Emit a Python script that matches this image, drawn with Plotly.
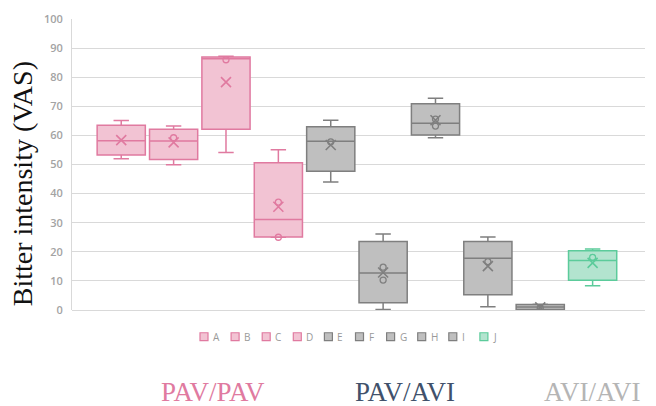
import plotly.graph_objects as go

# ---------------- data ----------------
names = ["A", "B", "C", "D", "E", "F", "G", "H", "I", "J"]
groups = ["PAV/PAV"] * 4 + ["PAV/AVI"] * 5 + ["AVI/AVI"]
lower = [52.0, 49.9, 54.1, 25.0, 44.0, 0.2, 59.2, 1.1, 0.0, 8.3]
q1 = [53.3, 51.7, 62.1, 25.1, 47.7, 2.5, 60.1, 5.2, 0.2, 10.2]
median = [58.2, 58.1, 86.3, 31.1, 58.0, 12.7, 64.2, 17.8, 1.0, 17.0]
q3 = [63.5, 62.1, 86.9, 50.6, 63.0, 23.5, 70.9, 23.5, 1.9, 20.4]
upper = [65.1, 63.2, 87.2, 55.1, 65.2, 26.1, 72.8, 25.1, 2.0, 21.0]
mean = [58.4, 57.6, 78.3, 35.5, 56.7, 12.9, 65.2, 15.1, 0.9, 16.2]
inner_points = [
    [],
    [59.2],
    [86.0],
    [37.1, 25.0],
    [57.8],
    [14.7, 10.3],
    [63.2, 65.6],
    [16.6],
    [0.6],
    [18.1],
]
yticks = [0, 10, 20, 30, 40, 50, 60, 70, 80, 90, 100]
group_labels = ["PAV/PAV", "PAV/AVI", "AVI/AVI"]

# ---------------- style ----------------
fills = {"PAV/PAV": "#f2c3d3", "PAV/AVI": "#bfbfbf", "AVI/AVI": "#b3e4cf"}
lines = {"PAV/PAV": "#e07aa0", "PAV/AVI": "#7f7f7f", "AVI/AVI": "#5ccb9b"}
label_colors = {"PAV/PAV": "#e07aa0", "PAV/AVI": "#41516b", "AVI/AVI": "#b5b5b5"}

W, H = 656, 406
L, R, T, B = 72, 645, 16, 310


def px(x):
    return (x - L) / (R - L)


def py(y):
    return (B - y) / (B - T)


fig = go.Figure()

for i, n in enumerate(names):
    g = groups[i]
    fig.add_trace(go.Box(
        name=n, x=[i], q1=[q1[i]], median=[median[i]], q3=[q3[i]],
        lowerfence=[lower[i]], upperfence=[upper[i]],
        width=0.92, whiskerwidth=0.32, boxpoints=False,
        fillcolor=fills[g], line=dict(color=lines[g], width=1.5),
        showlegend=False, hoverinfo="skip",
    ))
    if inner_points[i]:
        fig.add_trace(go.Scatter(
            x=[i] * len(inner_points[i]), y=inner_points[i], mode="markers",
            marker=dict(symbol="circle-open", size=6, color=lines[g],
                        line=dict(width=1.3, color=lines[g])),
            showlegend=False, hoverinfo="skip",
        ))
    fig.add_trace(go.Scatter(
        x=[i], y=[mean[i]], mode="markers",
        marker=dict(symbol="x-thin-open", size=10, color=lines[g],
                    line=dict(width=1.6, color=lines[g])),
        showlegend=False, hoverinfo="skip",
    ))

# manual compact legend
shapes = []
annotations = []
leg_x0 = 200
leg_step = 31.1
for i, n in enumerate(names):
    g = groups[i]
    x0 = leg_x0 + i * leg_step
    shapes.append(dict(type="rect", xref="paper", yref="paper",
                       x0=px(x0), x1=px(x0 + 8), y0=py(341), y1=py(333),
                       fillcolor=fills[g], line=dict(color=lines[g], width=1.2)))
    annotations.append(dict(text=n, xref="paper", yref="paper",
                            x=px(x0 + 11), y=py(337), xanchor="left", yanchor="middle",
                            showarrow=False,
                            font=dict(family="Open Sans", size=10, color="#9a9a9a")))

# group labels below the chart
group_pos = [(213, 393), (405, 393), (592, 393)]
for lab, (gx, gy) in zip(group_labels, group_pos):
    annotations.append(dict(text=lab, xref="paper", yref="paper",
                            x=px(gx), y=py(gy), xanchor="center", yanchor="middle",
                            showarrow=False,
                            font=dict(family="Liberation Serif", size=27,
                                      color=label_colors[lab])))

# y title
annotations.append(dict(text="Bitter intensity (VAS)", xref="paper", yref="paper",
                        x=px(22), y=py(183), xanchor="center", yanchor="middle",
                        textangle=-90, showarrow=False,
                        font=dict(family="Liberation Serif", size=28, color="#111111")))

fig.update_layout(
    width=W, height=H,
    margin=dict(l=L, r=W - R, t=T, b=H - B),
    paper_bgcolor="white", plot_bgcolor="white",
    showlegend=False,
    shapes=shapes, annotations=annotations,
    xaxis=dict(range=[-0.94, 10.0], showgrid=False, zeroline=False,
               showline=False, showticklabels=False, ticks=""),
    yaxis=dict(range=[0, 100], tickvals=yticks, ticktext=[str(v) for v in yticks],
               showgrid=True, gridcolor="#d9d9d9", gridwidth=1.3,
               zeroline=True, zerolinecolor="#d9d9d9", zerolinewidth=1.3,
               showline=True, linecolor="#d9d9d9", linewidth=1,
               ticks="", ticklabelstandoff=6,
               tickfont=dict(family="Open Sans", size=11, color="#a3a3a3", weight=600)),
)

fig.write_html("out.html")
